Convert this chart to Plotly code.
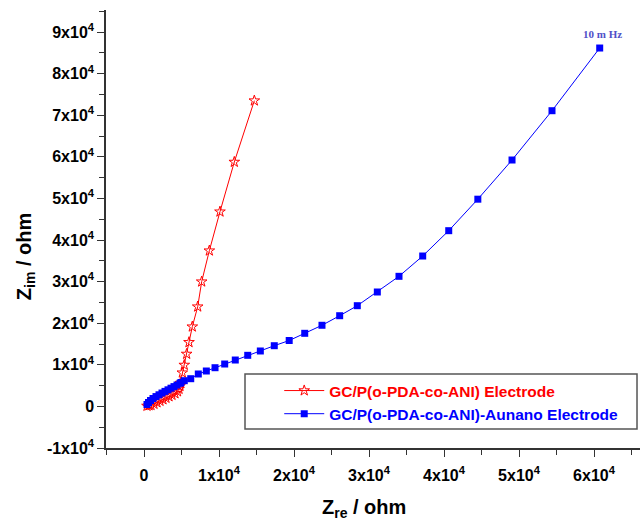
import plotly.graph_objects as go

# ---- data ----
zre_red = [14710, 12040, 10130, 8710, 7690, 7160, 6440, 6000, 5690, 5370, 5110, 4870,
           4800, 4670, 4470, 4130, 3730, 3330, 2930, 2530, 2130, 1730, 1330, 930, 670, 400]
zim_red = [73500, 58750, 46800, 37430, 29980, 23970, 19160, 15410, 12600, 9950, 8100, 5620,
           4900, 4180, 3580, 3100, 2740, 2380, 2020, 1660, 1300, 940, 580, 300, 220, 100]

zre_blue = [60760, 54400, 49070, 44510, 40630, 37160, 34000, 31110, 28440, 26090, 23730,
            21430, 19360, 17370, 15510, 13830, 12170, 10760, 9470, 8310, 7240, 6230, 5370,
            4930, 4800, 4400, 4000, 3600, 3200, 2800, 2400, 2000, 1600, 1200, 870, 600, 400]
zim_blue = [86150, 71080, 59230, 49810, 42240, 36150, 31270, 27500, 24210, 21800, 19500,
            17570, 15840, 14590, 13320, 12280, 11150, 10190, 9300, 8510, 7790, 6660, 6180,
            5750, 5550, 5140, 4760, 4380, 3990, 3610, 3220, 2790, 2360, 1900, 1420, 940, 460]

name_red = "GC/P(o-PDA-co-ANI) Electrode"
name_blue = "GC/P(o-PDA-co-ANI)-Aunano Electrode"

x_tickvals = [0, 10000, 20000, 30000, 40000, 50000, 60000]
x_ticktext = ["0", "1x10<sup>4</sup>", "2x10<sup>4</sup>", "3x10<sup>4</sup>",
              "4x10<sup>4</sup>", "5x10<sup>4</sup>", "6x10<sup>4</sup>"]
y_tickvals = [-10000, 0, 10000, 20000, 30000, 40000, 50000, 60000, 70000, 80000, 90000]
y_ticktext = ["-1x10<sup>4</sup>", "0", "1x10<sup>4</sup>", "2x10<sup>4</sup>",
              "3x10<sup>4</sup>", "4x10<sup>4</sup>", "5x10<sup>4</sup>", "6x10<sup>4</sup>",
              "7x10<sup>4</sup>", "8x10<sup>4</sup>", "9x10<sup>4</sup>"]

FONT = "Arial, Liberation Sans, sans-serif"

fig = go.Figure()
fig.add_trace(go.Scatter(
    x=zre_red, y=zim_red, mode="lines+markers",
    name="<span style='color:#ff0000'>" + name_red + "</span>",
    line=dict(color="#ff0000", width=1),
    marker=dict(symbol="star-open", size=8, color="#ff0000", line=dict(width=1, color="#ff0000")),
))
fig.add_trace(go.Scatter(
    x=zre_blue, y=zim_blue, mode="lines+markers",
    name="<span style='color:#0000ff'>" + name_blue + "</span>",
    line=dict(color="#0000ff", width=1),
    marker=dict(symbol="square", size=7, color="#0000ff"),
))

axis_common = dict(
    showgrid=False, zeroline=False, showline=True, linecolor="#333333", linewidth=1.5,
    ticks="outside", ticklen=7, tickwidth=1.3, tickcolor="#333333",
    tickfont=dict(family=FONT, size=16, color="black", weight="bold"),
    minor=dict(ticks="outside", ticklen=5, tickwidth=1.2, tickcolor="#333333", dtick=5000),
)

fig.update_xaxes(range=[-5067, 66133], tickmode="array", tickvals=x_tickvals,
                 ticktext=x_ticktext, ticklabelstandoff=5, **axis_common)
fig.update_yaxes(range=[-10000, 95290], tickmode="array", tickvals=y_tickvals,
                 ticktext=y_ticktext, **axis_common)

fig.add_annotation(x=zre_blue[0], y=zim_blue[0], text="<b>10 m Hz</b>", showarrow=False,
                   xshift=3, yshift=14,
                   font=dict(family="Times New Roman, Liberation Serif, serif", size=11, color="#5050c8"))
fig.add_annotation(xref="paper", yref="paper", x=-0.1517, y=0.438, text="<b>Z<sub>im</sub> / ohm</b>",
                   textangle=-90, showarrow=False, xanchor="center", yanchor="middle",
                   font=dict(family=FONT, size=20, color="black"))
fig.add_annotation(xref="paper", yref="paper", x=0.483, y=-0.137, text="<b>Z<sub>re</sub> / ohm</b>",
                   showarrow=False, xanchor="center", yanchor="middle",
                   font=dict(family=FONT, size=20, color="black"))

fig.add_shape(type="rect", xref="paper", yref="paper", x0=0.2603, x1=0.9944, y0=0.0434, y1=0.169,
              line=dict(color="#555555", width=1.5), fillcolor="rgba(0,0,0,0)")

fig.update_layout(
    width=640, height=530,
    margin=dict(l=106, r=0, t=10, b=82),
    paper_bgcolor="white", plot_bgcolor="white",
    showlegend=True,
    legend=dict(x=0.3244, y=0.169, xanchor="left", yanchor="top", bgcolor="rgba(0,0,0,0)",
                borderwidth=0, itemwidth=40, tracegroupgap=0,
                font=dict(family=FONT, size=15.5, weight="bold")),
)

fig.write_html("out.html")
